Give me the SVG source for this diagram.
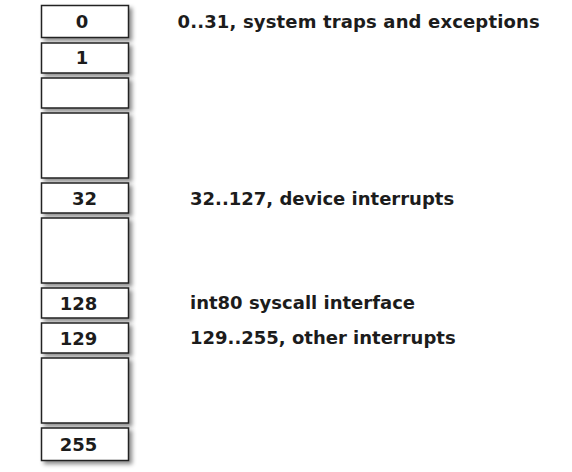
<svg xmlns="http://www.w3.org/2000/svg" width="572" height="472" viewBox="0 0 572 472">
<defs>
<filter id="sh" x="-20%" y="-20%" width="150%" height="160%">
<feDropShadow dx="3" dy="3" stdDeviation="2" flood-color="#000" flood-opacity="0.45"/>
</filter>
<style>
.box{fill:#fff;stroke:#222;stroke-width:1.5;filter:url(#sh)}
.num{font-family:"DejaVu Sans",sans-serif;font-weight:bold;font-size:18px;fill:#1c1c1c;text-anchor:middle}
.lbl{font-family:"DejaVu Sans",sans-serif;font-weight:bold;font-size:18px;fill:#1c1c1c}
</style>
</defs>
<rect width="572" height="472" fill="#fff"/>
<g id="n0"><rect class="box" x="41.5" y="5.5" width="87" height="32"/><text class="num" x="82" y="28">0</text></g>
<g id="n1"><rect class="box" x="41.5" y="43" width="87" height="30"/><text class="num" x="82" y="64">1</text></g>
<g id="n2"><rect class="box" x="41.5" y="78" width="87" height="30"/></g>
<g id="n3"><rect class="box" x="41.5" y="113" width="87" height="65"/></g>
<g id="n32"><rect class="box" x="41.5" y="183" width="87" height="30"/><text class="num" x="84.5" y="204.5">32</text></g>
<g id="n4"><rect class="box" x="41.5" y="218" width="87" height="65"/></g>
<g id="n128"><rect class="box" x="41.5" y="288" width="87" height="30"/><text class="num" x="78.5" y="309.5">128</text></g>
<g id="n129"><rect class="box" x="41.5" y="323" width="87" height="30"/><text class="num" x="78.5" y="344.5">129</text></g>
<g id="n5"><rect class="box" x="41.5" y="358" width="87" height="65"/></g>
<g id="n255"><rect class="box" x="41.5" y="428" width="87" height="32.5"/><text class="num" x="78.5" y="451">255</text></g>
<g id="labels">
<text class="lbl" x="177.5" y="28" letter-spacing="0.15">0..31, system traps and exceptions</text>
<text class="lbl" x="190" y="204.5">32..127, device interrupts</text>
<text class="lbl" x="190" y="309">int80 syscall interface</text>
<text class="lbl" x="190" y="344">129..255, other interrupts</text>
</g>
<g id="connectors"/>
</svg>
